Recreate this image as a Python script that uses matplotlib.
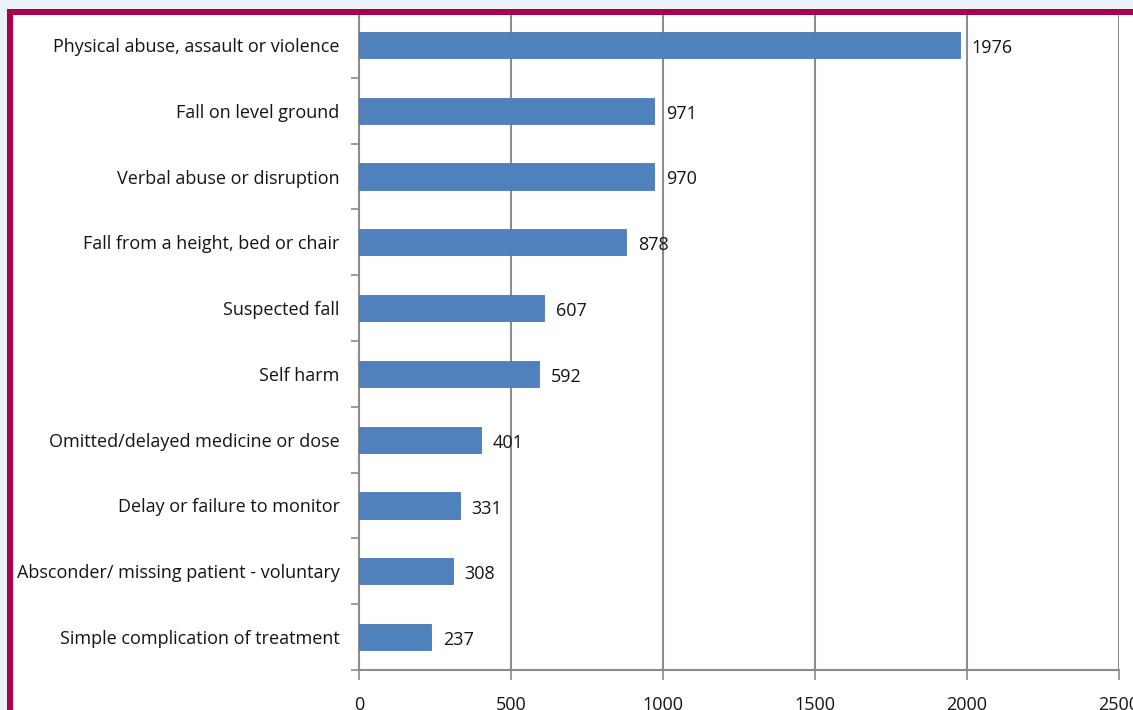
import matplotlib
matplotlib.use("Agg")
import matplotlib.pyplot as plt
from matplotlib.patches import Rectangle
import numpy as np

categories = [
    "Physical abuse, assault or violence",
    "Fall on level ground",
    "Verbal abuse or disruption",
    "Fall from a height, bed or chair",
    "Suspected fall",
    "Self harm",
    "Omitted/delayed medicine or dose",
    "Delay or failure to monitor",
    "Absconder/ missing patient - voluntary",
    "Simple complication of treatment",
]
values = [1976, 971, 970, 878, 607, 592, 401, 331, 308, 237]
xticks = [0, 500, 1000, 1500, 2000, 2500]

W, H = 1133, 710
fig = plt.figure(figsize=(W / 100, H / 100), dpi=100)
fig.patch.set_facecolor("#EAF3F7")

# white panel
fig.patches.append(Rectangle((7 / W, 0), 1, 1 - 9 / H, transform=fig.transFigure,
                             facecolor="white", edgecolor="none", zorder=-1))

ax = fig.add_axes([359 / W, 1 - 670 / H, 760 / W, 658 / H])
ax.set_facecolor("none")
ax.set_zorder(1)

n = len(categories)
pos = np.arange(n)[::-1]
ax.barh(pos, values, height=0.4, color="#4F81BD", edgecolor="#4A7AB5", linewidth=0.6, zorder=3)
ax.set_ylim(-0.5, n - 0.5)
ax.set_xlim(0, 2500)
ax.set_xticks(xticks)
ax.set_xticklabels([str(t) for t in xticks])
ax.set_yticks(pos)
ax.set_yticklabels(categories)
ax.set_yticks(np.arange(-0.5, n, 1), minor=True)

fs = 13
font = "Open Sans"
tc = "#141414"
for lab in ax.get_yticklabels():
    lab.set_fontsize(fs); lab.set_family(font); lab.set_color(tc)
for lab in ax.get_xticklabels():
    lab.set_fontsize(fs); lab.set_family(font); lab.set_color(tc)

ax.tick_params(axis="y", which="major", length=0, pad=14)
ax.tick_params(axis="y", which="minor", length=6, width=1.2, color="#8c8c8c", direction="out")
ax.tick_params(axis="x", which="major", length=7, width=1.2, color="#8c8c8c", direction="out", pad=12)

ax.grid(axis="x", color="#8c8c8c", linewidth=1.5, zorder=1)
ax.set_axisbelow(True)
for s in ["top", "right"]:
    ax.spines[s].set_visible(False)
for s in ["left", "bottom"]:
    ax.spines[s].set_color("#8c8c8c")
    ax.spines[s].set_linewidth(1.5)

for p, v in zip(pos, values):
    ax.annotate(str(v), (v, p), xytext=(12, -3), textcoords="offset pixels",
                va="center", ha="left", fontsize=fs, family=font, color=tc, zorder=4)

# crimson frame
c = "#A8004A"
fig.patches.append(Rectangle((7 / W, 1 - 15 / H), 1, 6 / H, transform=fig.transFigure,
                             facecolor=c, edgecolor="none", zorder=10))
fig.patches.append(Rectangle((7 / W, 0), 6 / W, 1 - 9 / H, transform=fig.transFigure,
                             facecolor=c, edgecolor="none", zorder=10))

fig.savefig("out.png", dpi=100, facecolor=fig.get_facecolor())
